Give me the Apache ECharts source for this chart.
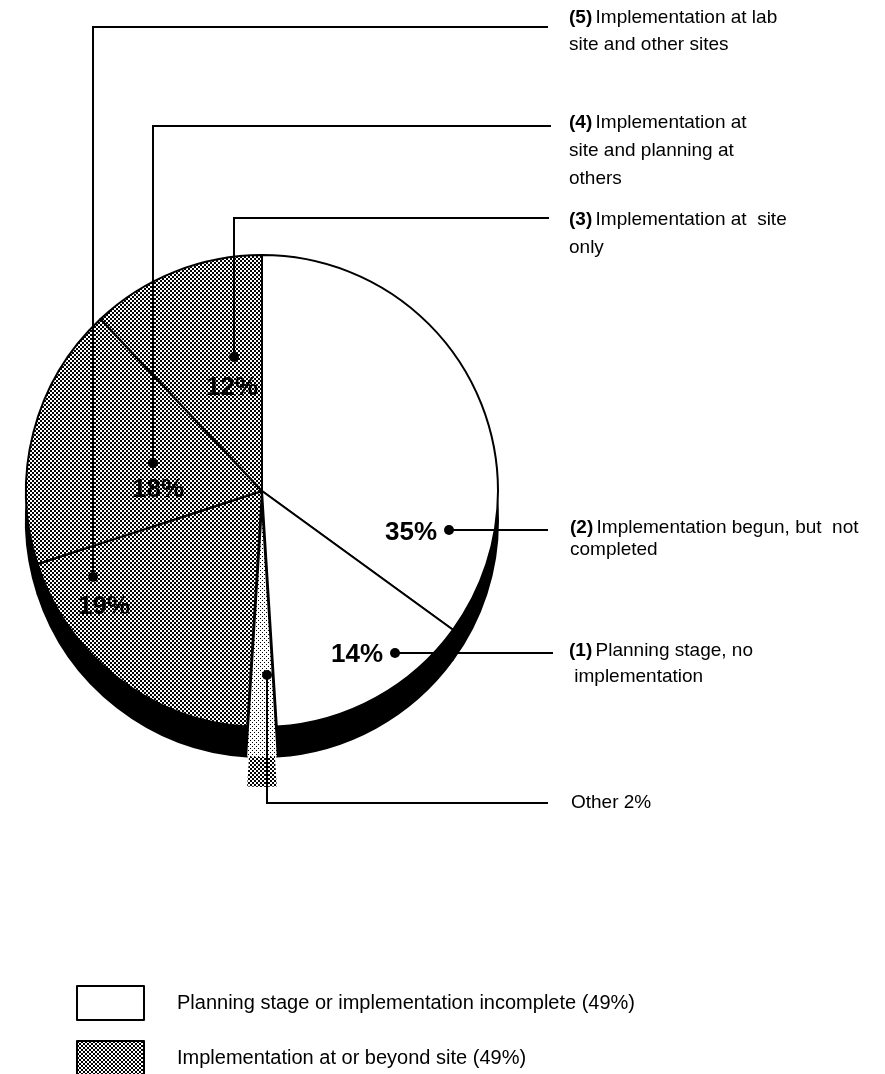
<!DOCTYPE html>
<html>
<head>
<meta charset="utf-8">
<script src="https://cdn.jsdelivr.net/npm/echarts@6/dist/echarts.min.js"></script>
<style>
html,body{margin:0;padding:0;background:#fff;}
#chart{width:885px;height:1074px;}
</style>
</head>
<body>
<div id="chart"></div>
<script>
// ---------------- DATA ----------------
// slices in drawing order (clockwise from 12 o'clock)
const sliceNumbers = ['(2)', '(1)', '', '(5)', '(4)', '(3)'];
const sliceNames = [
  'Implementation begun, but  not completed',
  'Planning stage, no implementation',
  'Other',
  'Implementation at lab site and other sites',
  'Implementation at site and planning at others',
  'Implementation at  site only'
];
const sliceValues = [35, 14, 2, 19, 18, 12];
const sliceGroups = ['planning', 'planning', 'other', 'impl', 'impl', 'impl'];
// label text as broken into lines in the original
const sliceLabelLines = [
  ['Implementation begun, but  not', 'completed'],
  ['Planning stage, no', ' implementation'],
  ['Other'],
  ['Implementation at lab', 'site and other sites'],
  ['Implementation at', 'site and planning at', 'others'],
  ['Implementation at  site', 'only']
];
const groupNames = ['Planning stage or implementation incomplete', 'Implementation at or beyond site'];
const groupValues = [49, 49];

// ---------------- LAYOUT (annotation positions, px) ----------------
const FONT = '"Liberation Sans", Arial, Helvetica, sans-serif';
const pieCenter = [262, 491];
const pieRadius = 236;
const depth = 30;
const legendTops = [985, 1040];
const annotLayout = [
  {dot: [449, 530], path: [[449, 530], [548, 530]], text: [570, 528], lh: 22, pct: [411, 533]},
  {dot: [395, 653], path: [[395, 653], [553, 653]], text: [569, 651], lh: 26, pct: [357, 655]},
  {dot: [267, 675], path: [[267, 675], [267, 803], [548, 803]], text: [571, 803], lh: 28, pct: null},
  {dot: [93, 577], path: [[93, 577], [93, 27], [548, 27]], text: [569, 18], lh: 27, pct: [104, 607]},
  {dot: [153, 463], path: [[153, 463], [153, 126], [551, 126]], text: [569, 123], lh: 28, pct: [158, 490]},
  {dot: [234, 357], path: [[234, 357], [234, 218], [549, 218]], text: [569, 220], lh: 28, pct: [232, 388]}
];

// ---------------- PATTERNS ----------------
function makePattern(cells, size) {
  const c = document.createElement('canvas');
  c.width = size; c.height = size;
  const ctx = c.getContext('2d');
  ctx.fillStyle = '#fff';
  ctx.fillRect(0, 0, size, size);
  ctx.fillStyle = '#000';
  cells.forEach(p => ctx.fillRect(p[0], p[1], p[2], p[3]));
  return {image: c, repeat: 'repeat'};
}
const darkDots = makePattern([[0, 0, 2, 2], [2, 2, 2, 2]], 4);
const lightDots = makePattern([[0, 0, 1, 1], [2, 2, 1, 1]], 4);

function faceColor(g) {
  return g === 'planning' ? '#ffffff' : (g === 'impl' ? darkDots : lightDots);
}

const mainData = sliceValues.map((v, i) => ({
  name: sliceNames[i],
  value: v,
  selected: sliceGroups[i] === 'other',
  itemStyle: {
    color: faceColor(sliceGroups[i]),
    borderColor: '#000',
    borderWidth: sliceGroups[i] === 'other' ? 0 : 2
  }
}));
const depthData = sliceValues.map((v, i) => ({
  name: sliceNames[i],
  value: v,
  selected: sliceGroups[i] === 'other',
  itemStyle: {
    color: sliceGroups[i] === 'other' ? darkDots : '#000',
    borderColor: sliceGroups[i] === 'other' ? 'rgba(0,0,0,0)' : '#000',
    borderWidth: sliceGroups[i] === 'other' ? 0 : 2
  }
}));
const groupData = groupNames.map((n, i) => ({
  name: n + ' (' + groupValues[i] + '%)',
  value: groupValues[i],
  itemStyle: {color: i === 0 ? '#ffffff' : darkDots}
}));

// ---------------- ANNOTATIONS ----------------
const graphics = [];
annotLayout.forEach((a, i) => {
  graphics.push({
    type: 'polyline', z: 100, silent: true,
    shape: {points: a.path},
    style: {stroke: '#000', lineWidth: 2, fill: null}
  });
  graphics.push({
    type: 'circle', z: 101, silent: true,
    shape: {cx: a.dot[0], cy: a.dot[1], r: 5},
    style: {fill: '#000'}
  });
  if (a.pct) {
    graphics.push({
      type: 'text', z: 101, silent: true, x: a.pct[0], y: a.pct[1],
      style: {
        text: sliceValues[i] + '%', font: 'bold 26px ' + FONT,
        fill: '#000', align: 'center', verticalAlign: 'middle'
      }
    });
  }
  const lines = sliceLabelLines[i].slice();
  if (sliceGroups[i] === 'other') lines[0] = lines[0] + ' ' + sliceValues[i] + '%';
  lines.forEach((ln, k) => {
    const txt = (k === 0 && sliceNumbers[i]) ? '{b|' + sliceNumbers[i] + '} {r|' + ln + '}' : '{r|' + ln + '}';
    graphics.push({
      type: 'text', z: 101, silent: true, x: a.text[0], y: a.text[1] + k * a.lh,
      style: {
        text: txt, fill: '#000', align: 'left', verticalAlign: 'middle',
        rich: {
          b: {fontWeight: 'bold', fontSize: 19, fontFamily: FONT, fill: '#000'},
          r: {fontSize: 19, fontFamily: FONT, fill: '#000'}
        }
      }
    });
  });
});

// ---------------- CHART ----------------
const legends = groupData.map((d, i) => ({
  orient: 'vertical',
  left: 76, top: legendTops[i],
  padding: 0,
  itemWidth: 67, itemHeight: 34,
  icon: 'rect',
  selectedMode: false,
  data: [d.name],
  itemStyle: {borderColor: '#000', borderWidth: 2},
  textStyle: {fontSize: 20, fontFamily: FONT, color: '#000', padding: [0, 0, 0, 28]}
}));

const chart = echarts.init(document.getElementById('chart'), null, {renderer: 'canvas'});
chart.setOption({
  animation: false,
  backgroundColor: '#ffffff',
  legend: legends,
  series: [
    {
      type: 'pie', name: 'depth', z: 1, silent: true,
      center: [pieCenter[0], pieCenter[1] + depth], radius: pieRadius,
      startAngle: 90, clockwise: true,
      selectedMode: 'single', selectedOffset: depth,
      label: {show: false}, labelLine: {show: false},
      emphasis: {disabled: true},
      data: depthData
    },
    {
      type: 'pie', name: 'main', z: 2, silent: true,
      center: pieCenter, radius: pieRadius,
      startAngle: 90, clockwise: true,
      selectedMode: 'single', selectedOffset: depth,
      label: {show: false}, labelLine: {show: false},
      emphasis: {disabled: true},
      data: mainData
    },
    {
      type: 'pie', name: 'groups', z: 0, silent: true,
      center: [-100, -100], radius: 0,
      label: {show: false}, labelLine: {show: false},
      emphasis: {disabled: true},
      data: groupData
    }
  ],
  graphic: graphics
});
</script>
</body>
</html>
